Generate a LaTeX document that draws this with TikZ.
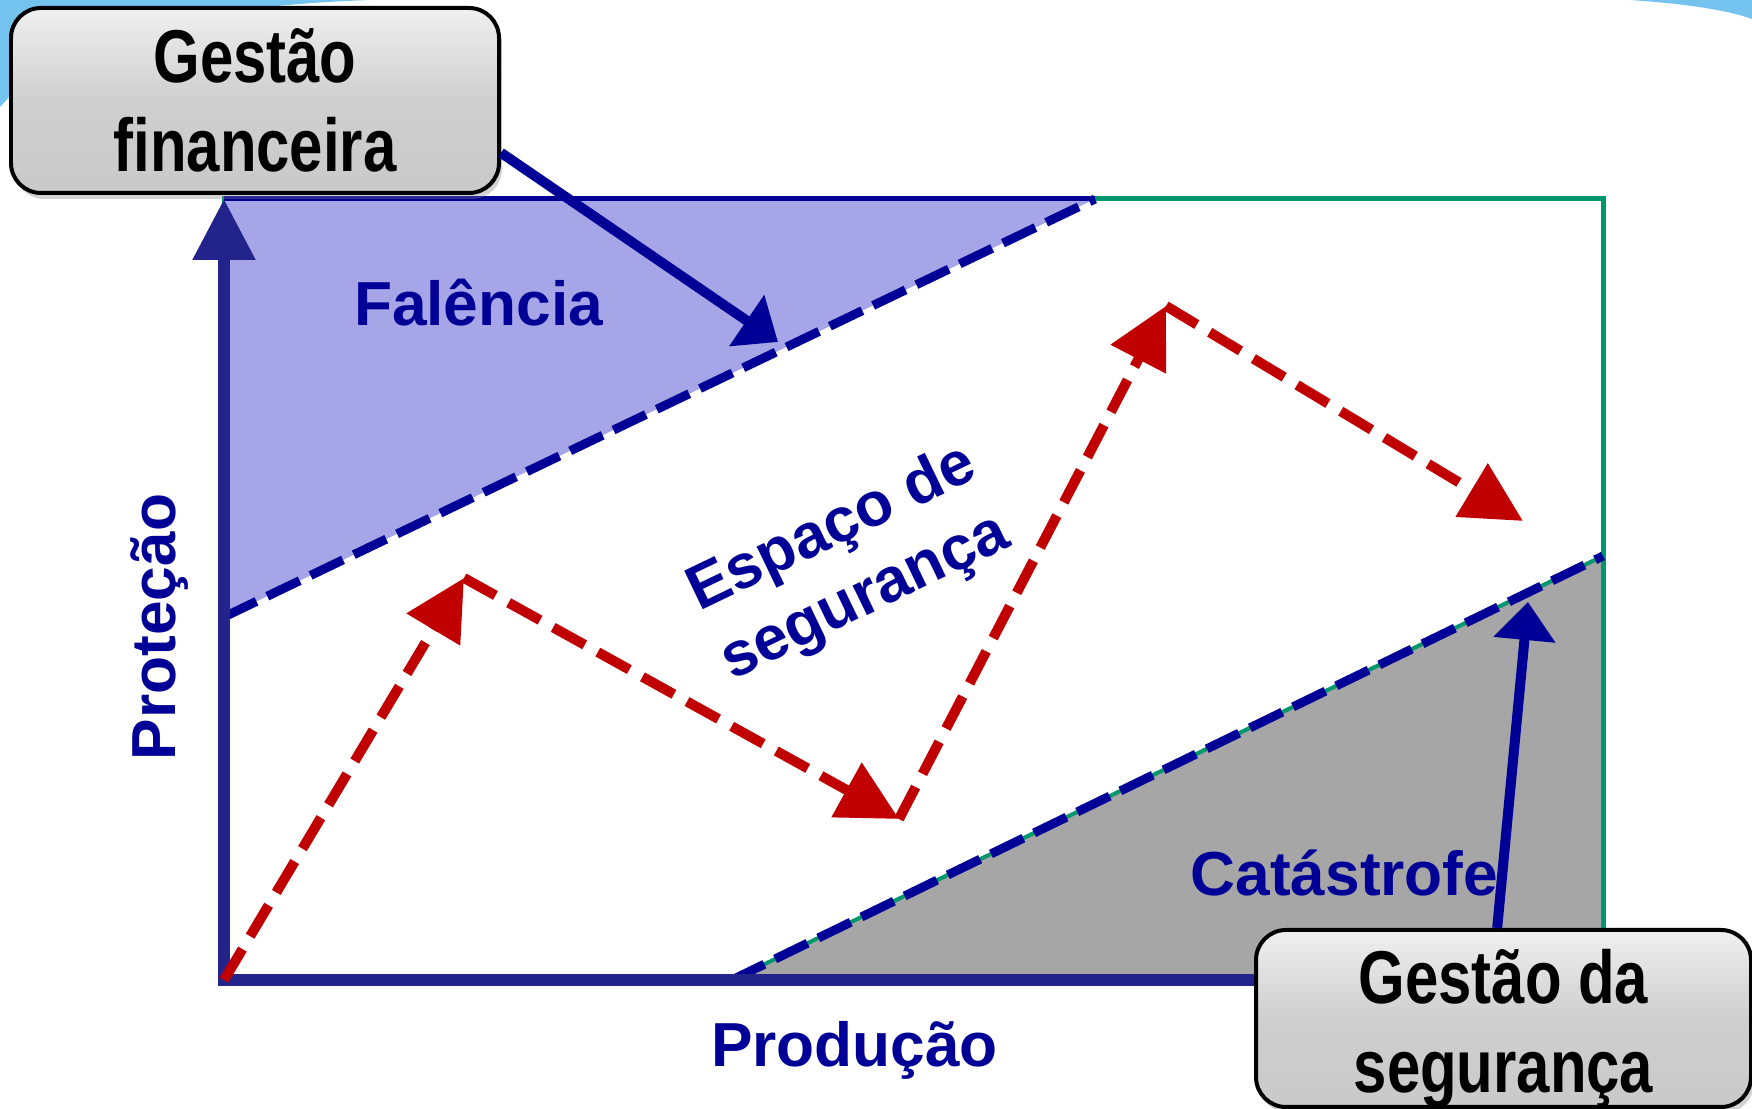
\documentclass[tikz,border=0pt]{standalone}
\usepackage{fontspec}
\setmainfont{Liberation Sans}
\newfontfamily\estreita[FakeStretch=0.8]{Liberation Sans}
\usetikzlibrary{arrows.meta,shadows}
\definecolor{azulEixo}{RGB}{35,35,140}
\definecolor{azulEscuro}{RGB}{0,0,150}
\definecolor{lilas}{RGB}{165,165,232}
\definecolor{cinza}{RGB}{166,166,166}
\definecolor{verde}{RGB}{0,150,110}
\definecolor{vermelho}{RGB}{192,0,0}
\definecolor{ceu}{RGB}{115,195,238}
\tikzset{
  caixa/.style={draw=black, line width=0.04cm, rounded corners=0.3cm,
    top color=black!6, bottom color=black!21, middle color=black!19,
    drop shadow={shadow xshift=0.03cm, shadow yshift=-0.06cm, opacity=0.35},
    align=center, font=\estreita\bfseries\fontsize{21.3}{25.3}\selectfont},
  textocaixa/.style={align=center, font=\estreita\bfseries\fontsize{21.3}{25.3}\selectfont},
  rotulo/.style={text=azulEscuro, font=\bfseries\fontsize{17.7}{21.6}\selectfont},
  seta/.style={vermelho, line width=0.1cm, dash pattern=on 0.36cm off 0.15cm,
    -{Triangle[length=0.6cm,width=0.6cm]}},
  setaazul/.style={azulEscuro, line width=0.1cm, -{Triangle[length=0.38cm,width=0.6cm]}},
  limite/.style={azulEscuro, line width=0.09cm, dash pattern=on 0.36cm off 0.12cm}
}
\begin{document}
\begin{tikzpicture}
					%\draw[help lines] (0,0) grid (17.52,11.09);
					\useasboundingbox (0,0) rectangle (17.52,11.09);
					%FUNDO
					\fill[ceu] (0,11.09) -- (0,10.02) .. controls (0.6,10.7) and (1.8,11.02) .. (3.7,11.09) -- cycle;
					\fill[ceu] (16.3,11.09) .. controls (16.9,11.05) and (17.3,10.98) .. (17.52,10.90) -- (17.52,11.09) -- cycle;
					%PONTOS
					\coordinate (O) at (2.24,1.29);
					\coordinate (T) at (2.24,9.10);
					\coordinate (S) at (16.03,1.29);
					\coordinate (F1) at (2.24,4.92);
					\coordinate (F2) at (10.95,9.10);
					\coordinate (C1) at (7.32,1.29);
					\coordinate (C2) at (16.03,5.53);
					%QUADRO
					\draw[verde, line width=0.05cm] (T) rectangle (S);
					%FALENCIA
					\fill[lilas] (T) -- (F2) -- (F1) -- cycle;
					\draw[azulEscuro, line width=0.05cm] (T) -- (F2);
					\draw[limite] (F1) -- (F2);
					%CATASTROFE
					\filldraw[fill=cinza, draw=verde, line width=0.04cm] (C1) -- (C2) -- (S) -- cycle;
					\draw[limite] (C1) -- (C2);
					%EIXOS
					\draw[azulEixo, line width=0.12cm, {Triangle[length=0.61cm,width=0.6cm]}-] (T) -- (O) -- (13.0,1.29);
					%TEXTOS
					\node[rotulo, anchor=base] (fal) at (4.785,7.83) {Falência};
					\node[rotulo, anchor=base] (prod) at (8.545,0.42) {Produção};
					\node[rotulo, anchor=base] (cat) at (13.445,2.13) {Catástrofe};
					\node[rotulo, anchor=base, rotate=90] (prot) at (1.75,4.82) {Proteção};
					\node[rotulo, rotate=25.7, align=center] (esp) at (8.49,5.45) {Espaço de\\segurança};
					%CAMINHO
					\coordinate (P1) at (4.64,5.31);
					\coordinate (P2) at (8.99,2.90);
					\coordinate (P3) at (11.66,8.03);
					\coordinate (P4) at (15.23,5.88);
					\draw[seta] (O) -- (P1);
					\draw[seta] (P1) -- (P2);
					\draw[seta] (P2) -- (P3);
					\draw[seta] (P3) -- (P4);
					%CAIXAS
					\coordinate (AF) at (7.78,7.67);
					\coordinate (AS) at (15.28,5.07);
					\node[caixa, minimum width=4.88cm, minimum height=1.85cm] (gf) at (2.55,10.085) {Gestão\\financeira};
					\node[caixa, minimum width=4.95cm, minimum height=1.77cm] (gs) at (15.035,0.905) {};
					\node[textocaixa] (gstexto) at ([yshift=-0.1cm]gs.center) {Gestão da\\segurança};
					\draw[setaazul] (gf.-12.5) -- (AF);
					\draw[setaazul] (gs.94) -- (AS);
				  \end{tikzpicture}
\end{document}
